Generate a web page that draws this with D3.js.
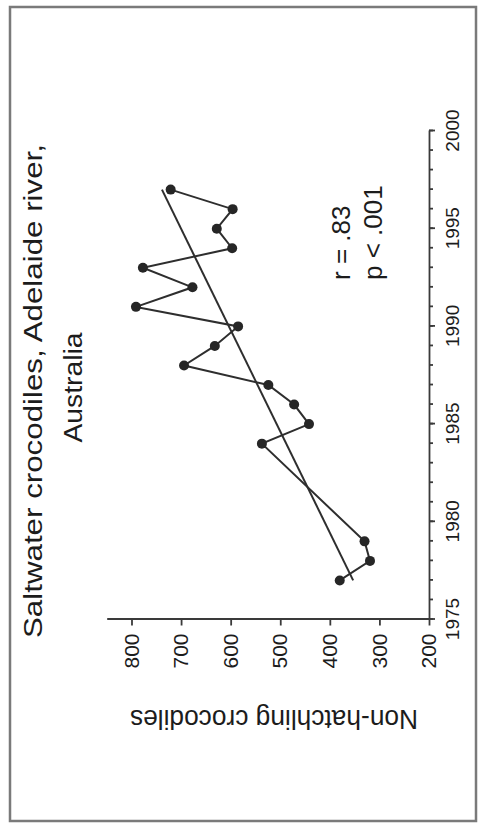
<!DOCTYPE html>
<html lang="en">
<head>
  <meta charset="utf-8">
  <title>Saltwater crocodiles, Adelaide river</title>
  <style>
    body {
      margin:0;
      background-color:#fff;
    }
    text {
      font-family:"Liberation Sans", Arial, sans-serif;
      fill:#1c1c1c;
    }
    .axis path, .axis line {
      stroke:#3a3a3a;
      stroke-width:1.8;
    }
    .xaxis text {
      font-size:19px;
    }
    .yaxis text {
      font-size:21px;
    }
  </style>
</head>
<body>
  <div id="page"></div>
  <script src="https://d3js.org/d3.v7.min.js"></script>
  <script>
    var years  = [1977, 1978, 1979, 1984, 1985, 1986, 1987, 1988, 1989, 1990, 1991, 1992, 1993, 1994, 1995, 1996, 1997];
    var counts = [380, 319, 330, 537, 442, 472, 524, 694, 632, 585, 791, 677, 777, 597, 628, 596, 721];
    var yearTicks = [1975, 1980, 1985, 1990, 1995, 2000];
    var countTicks = [200, 300, 400, 500, 600, 700, 800];
    var titleLines = ["Saltwater crocodiles, Adelaide river,", "Australia"];
    var yLabel = "Non-hatchling crocodiles";
    var stats = ["r = .83", "p < .001"];

    var W = 479, H = 825;

    var svg = d3.select("div#page").append("svg")
        .attr("width", W)
        .attr("height", H);

    // scanned page border
    svg.append("rect")
        .attr("x", 10)
        .attr("y", 7)
        .attr("width", 466)
        .attr("height", 814)
        .attr("fill", "none")
        .attr("stroke", "#7a7a7a")
        .attr("stroke-width", 2.5);

    // chart is drawn upright then turned a quarter left, like the scan
    var g = svg.append("g")
        .attr("transform", "translate(0," + H + ") rotate(-90)");

    var x = d3.scaleLinear().domain([1975, 2000]).range([205.5, 694]);
    var y = d3.scaleLinear().domain([200, 850]).range([429, 106.7]);

    var data = years.map(function(d, i){
      return {year: d, count: counts[i]};
    });

    // minor year ticks
    var minor = g.append("g")
        .attr("class", "axis")
        .attr("transform", "translate(0," + y(200) + ")")
        .call(d3.axisBottom(x).tickValues(d3.range(1975, 2001)).tickSize(4).tickSizeOuter(0).tickFormat(""));
    minor.select(".domain").remove();

    g.append("g")
        .attr("class", "axis xaxis")
        .attr("transform", "translate(0," + y(200) + ")")
        .call(d3.axisBottom(x).tickValues(yearTicks).tickFormat(d3.format("d")).tickSize(6).tickSizeOuter(0).tickPadding(11));

    g.append("g")
        .attr("class", "axis yaxis")
        .attr("transform", "translate(" + x(1975) + ",0)")
        .call(d3.axisLeft(y).tickValues(countTicks).tickSize(6).tickSizeOuter(0).tickPadding(8));

    g.selectAll(".axis text").attr("fill", "#1c1c1c");

    // least squares fit
    var mx = d3.mean(years), my = d3.mean(counts);
    var sxy = d3.sum(data, function(d){ return (d.year - mx) * (d.count - my); });
    var sxx = d3.sum(data, function(d){ return (d.year - mx) * (d.year - mx); });
    var slope = sxy / sxx;
    var ext = d3.extent(years);
    var fit = ext.map(function(t){ return {year: t, count: my + slope * (t - mx)}; });

    var line = d3.line()
        .x(function(d){ return x(d.year); })
        .y(function(d){ return y(d.count); });

    g.append("path")
        .datum(fit)
        .attr("d", line)
        .attr("fill", "none")
        .attr("stroke", "#2e2e2e")
        .attr("stroke-width", 2);

    g.append("path")
        .datum(data)
        .attr("d", line)
        .attr("fill", "none")
        .attr("stroke", "#2e2e2e")
        .attr("stroke-width", 2);

    g.selectAll("circle")
        .data(data)
        .enter().append("circle")
        .attr("cx", function(d){ return x(d.year); })
        .attr("cy", function(d){ return y(d.count); })
        .attr("r", 5)
        .attr("fill", "#262626");

    // title
    g.append("text")
        .attr("x", 434)
        .attr("y", 42)
        .attr("text-anchor", "middle")
        .attr("font-size", 26)
        .attr("textLength", 494)
        .attr("lengthAdjust", "spacingAndGlyphs")
        .text(titleLines[0]);

    g.append("text")
        .attr("x", 437.5)
        .attr("y", 82)
        .attr("text-anchor", "middle")
        .attr("font-size", 26)
        .attr("textLength", 110)
        .attr("lengthAdjust", "spacingAndGlyphs")
        .text(titleLines[1]);

    g.append("text")
        .attr("transform", "translate(115,274) rotate(-90)")
        .attr("text-anchor", "middle")
        .attr("font-size", 27)
        .attr("textLength", 288)
        .attr("lengthAdjust", "spacingAndGlyphs")
        .text(yLabel);

    g.selectAll(".stat")
        .data(stats)
        .enter().append("text")
        .attr("class", "stat")
        .attr("x", 545)
        .attr("y", function(d, i){ return 350 + i * 32; })
        .attr("font-size", 26)
        .text(function(d){ return d; });
  </script>
</body>
</html>
